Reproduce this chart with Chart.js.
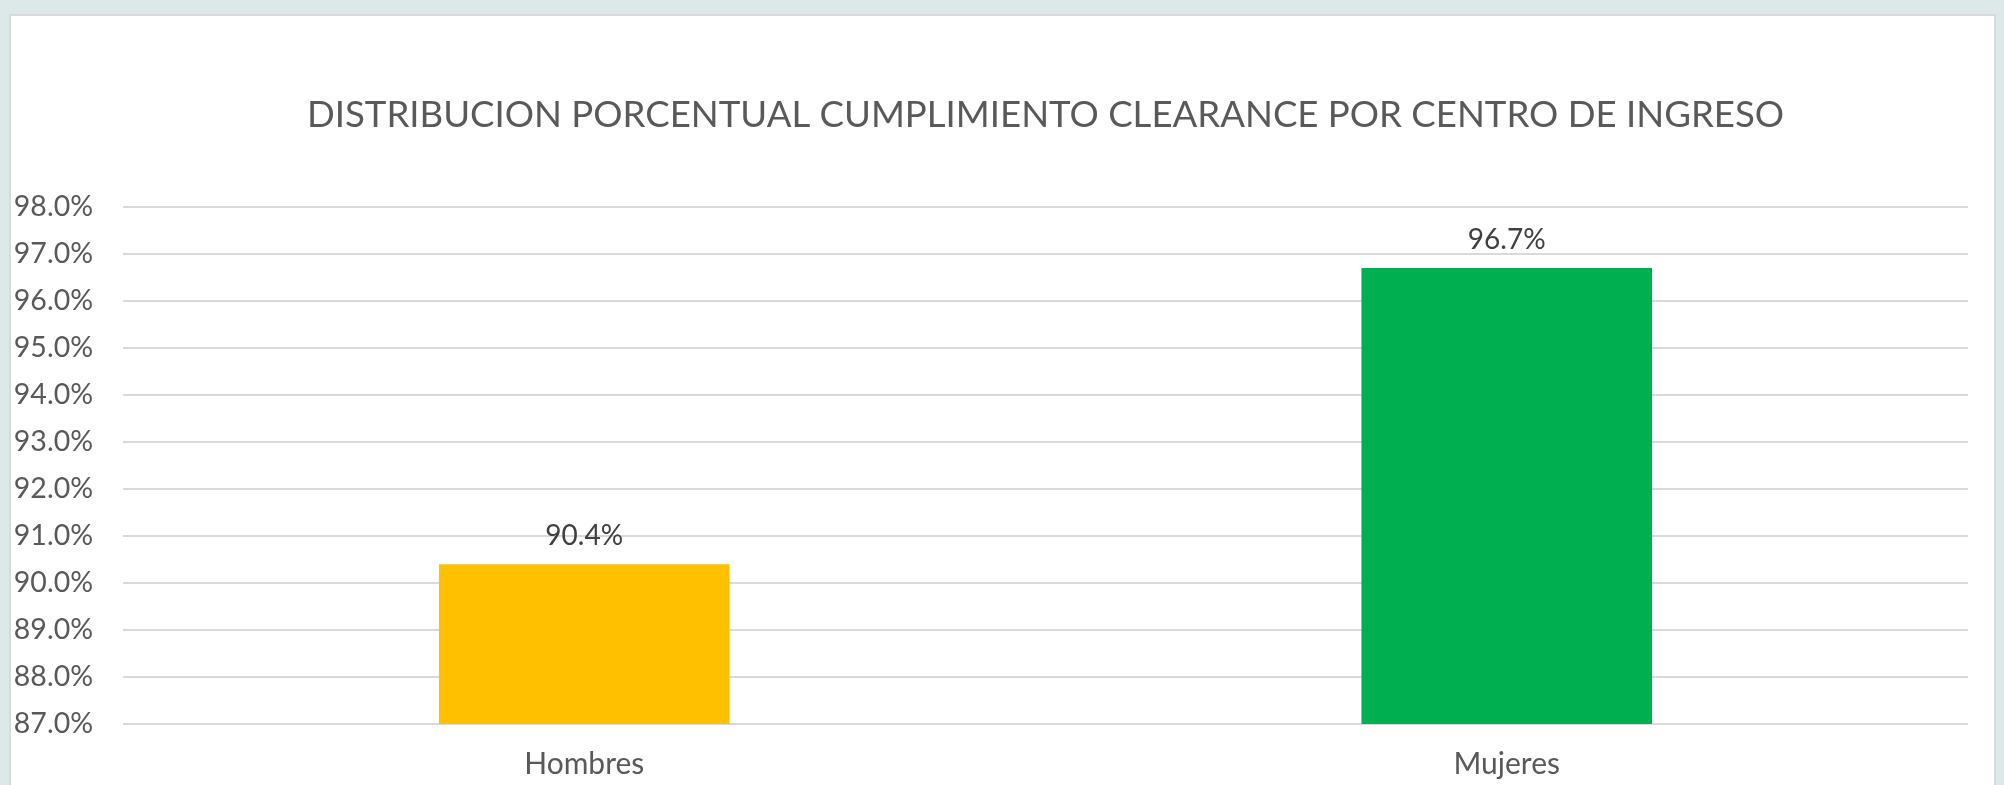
<!DOCTYPE html>
<html>
<head>
<meta charset="utf-8">
<script src="https://cdn.jsdelivr.net/npm/chart.js@4/dist/chart.umd.min.js"></script>
<style>
    html, body { margin: 0; padding: 0; }
    body { width: 2004px; height: 785px; background: #dce9e8; position: relative; overflow: hidden; }
    .panel { position: absolute; left: 9px; top: 14px; width: 1987px; height: 800px; background: #ffffff; border: 2px solid #d9d9d9; box-sizing: border-box; }
    #myChart { position: absolute; left: 0; top: 0; }
</style>
</head>
<body>
<div class="panel"></div>
<canvas id="myChart" width="2004" height="785"></canvas>
<script>
// datos
const tituloGrafico = 'DISTRIBUCION PORCENTUAL CUMPLIMIENTO CLEARANCE POR CENTRO DE INGRESO';
const categorias = ['Hombres', 'Mujeres'];
const porcentajes = [90.4, 96.7];
const coloresBarras = ['#FFC000', '#00B050'];
const ejeYMin = 87;
const ejeYMax = 98;
const ejeYPaso = 1;
const etiquetasEjeY = ['87.0%', '88.0%', '89.0%', '90.0%', '91.0%', '92.0%', '93.0%', '94.0%', '95.0%', '96.0%', '97.0%', '98.0%'];

document.addEventListener('DOMContentLoaded', function () {

    const chartCanvas = document.getElementById('myChart');

    // etiquetas de valor encima de cada barra
    const etiquetasValor = {
        id: 'etiquetasValor',
        afterDatasetsDraw(chart) {
            const ctx = chart.ctx;
            const meta = chart.getDatasetMeta(0);
            ctx.save();
            ctx.font = '28px Lato';
            ctx.fillStyle = '#404040';
            ctx.textAlign = 'center';
            ctx.textBaseline = 'alphabetic';
            meta.data.forEach(function (bar, i) {
                ctx.fillText(porcentajes[i].toFixed(1) + '%', bar.x, bar.y - 19);
            });
            ctx.restore();
        }
    };

    const chartConfig = {
        type: 'bar',
        data: {
            labels: categorias,
            datasets: [{
                data: porcentajes,
                backgroundColor: coloresBarras,
                categoryPercentage: 1,
                barPercentage: 0.315,
            }],
        },
        options: {
            responsive: false,
            animation: false,
            devicePixelRatio: 1,
            layout: { padding: { left: 10, right: 36, top: 0, bottom: 0 } },
            plugins: {
                legend: { display: false },
                tooltip: { enabled: false },
                title: {
                    display: true,
                    text: tituloGrafico,
                    fullSize: false,
                    color: '#595959',
                    font: { family: 'Lato', size: 36.6, weight: 'normal', lineHeight: 1.2 },
                    padding: { top: 93, bottom: 70 },
                },
            },
            scales: {
                x: {
                    grid: { display: false, drawTicks: false },
                    border: { display: false },
                    ticks: {
                        color: '#595959',
                        font: { family: 'Lato', size: 30 },
                        padding: 22,
                    },
                    afterFit(axis) { axis.height = 61; },
                },
                y: {
                    min: ejeYMin,
                    max: ejeYMax,
                    grid: { color: '#d9d9d9', lineWidth: 2, drawTicks: false },
                    border: { display: false },
                    ticks: {
                        stepSize: ejeYPaso,
                        color: '#595959',
                        font: { family: 'Lato', size: 28.5 },
                        padding: 30,
                        callback: function (value, index) { return etiquetasEjeY[index]; },
                    },
                    afterFit(axis) { axis.width = 113; },
                },
            },
        },
        plugins: [etiquetasValor],
    };

    const myChart = new Chart(chartCanvas, chartConfig);

});
</script>
</body>
</html>
